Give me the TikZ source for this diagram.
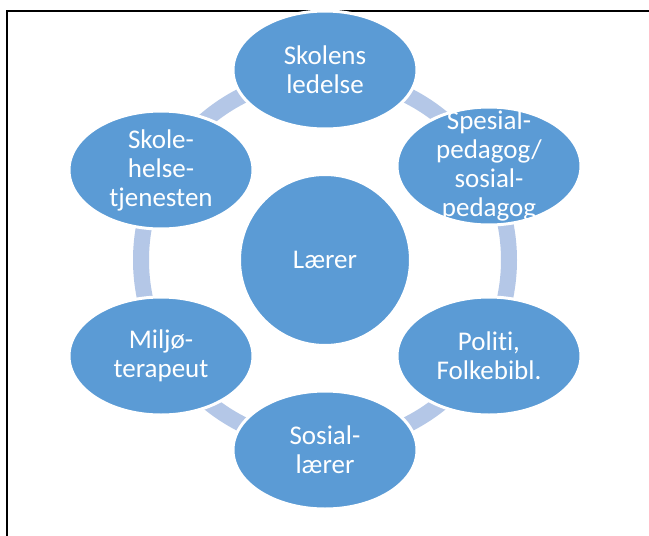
\documentclass[tikz,border=0pt]{standalone}
\usepackage{fontspec}
\setmainfont{Carlito}[Ligatures=NoCommon]
\usetikzlibrary{shapes.geometric}
\definecolor{bubblue}{HTML}{5B9BD5}
\definecolor{arcblue}{HTML}{B4C7E7}
\tikzset{
  bub/.style={ellipse, fill=bubblue, draw=white, line width=3pt, minimum width=184pt, minimum height=118pt, inner sep=0pt},
  mid/.style={circle, fill=bubblue, draw=white, line width=2pt, minimum size=170pt, inner sep=0pt},
  txt/.style={text=white, align=center, font=\fontsize{27}{29}\selectfont, inner sep=0pt},
  ring/.style={draw=arcblue, line width=16pt},
  frame/.style={draw=black, line width=2.5pt}
}
\begin{document}
\begin{tikzpicture}[x=1pt,y=-1pt]
\useasboundingbox (0,0) rectangle (649,536);
\fill[white] (0,0) rectangle (649,536);
\draw[frame] (6,11) -- (649,11);
\draw[frame] (7,11) -- (7,536);
\coordinate (c) at (325,260);
\draw[ring] (c) circle[radius=184];
\node[bub] (top) at (325,70) {};
\node[bub] (ru) at (489,166) {};
\node[bub] (rl) at (489,356) {};
\node[bub] (bot) at (325,450) {};
\node[bub] (ll) at (161,356) {};
\node[bub] (lu) at (161,170) {};
\node[mid] (mid) at (c) {};
\node[txt] at (top) {Skolens\\ledelse};
\node[txt] at (ru) {Spesial-\\pedagog/\\sosial-\\pedagog};
\node[txt] at (rl) {Politi,\\Folkebibl.};
\node[txt] at (bot) {Sosial-\\lærer};
\node[txt] at (ll) {Miljø-\\terapeut};
\node[txt] at (lu) {Skole-\\helse-\\tjenesten};
\node[txt] at (mid) {Lærer};
\end{tikzpicture}
\end{document}
